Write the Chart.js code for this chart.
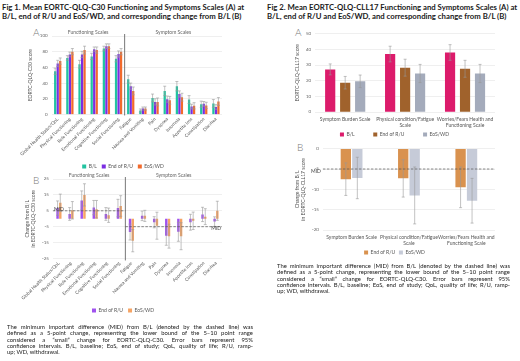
<!DOCTYPE html>
<html>
<head>
<meta charset="utf-8">
<script src="https://cdn.jsdelivr.net/npm/chart.js@4.4.1/dist/chart.umd.min.js"></script>
<style>
  body { margin: 0; background: #fff; width: 520px; height: 361px; position: relative; overflow: hidden; font-family: Lato, sans-serif; }
  .titulo { position: absolute; font-weight: 700; font-size: 7.75px; line-height: 9px; color: #1a1a1a; white-space: nowrap; }
  .caja { position: absolute; }
  .letra { position: absolute; font-size: 10px; color: #777; font-weight: 300; }
  .nota { position: absolute; font-size: 5.9px; line-height: 6.3px; color: #1a1a1a; }
  .nota span { display: block; white-space: nowrap; text-align: justify; text-align-last: justify; }
  .nota span.ult { text-align-last: left; }
</style>
</head>
<body>

<div class="titulo" style="left:2px; top:3px;">Fig 1. Mean EORTC-QLQ-C30 Functioning and Symptoms Scales (A) at<br>B/L, end of R/U and EoS/WD, and corresponding change from B/L (B)</div>
<div class="titulo" style="left:267px; top:3px;">Fig 2. Mean EORTC-QLQ-CLL17 Functioning and Symptoms Scales (A) at<br>B/L, end of R/U and EoS/WD, and corresponding change from B/L (B)</div>

<div class="letra" style="left:33px; top:26px;">A</div>
<div class="letra" style="left:33px; top:174px;">B</div>
<div class="letra" style="left:295px; top:26px;">A</div>
<div class="letra" style="left:297px; top:141px;">B</div>

<div class="caja" style="left:18px; top:24px; width:208px; height:155px;"><canvas id="c30Nivel"></canvas></div>
<div class="caja" style="left:18px; top:172px; width:208px; height:151px;"><canvas id="c30Cambio"></canvas></div>
<div class="caja" style="left:289px; top:27px; width:219px; height:120px;"><canvas id="cllNivel"></canvas></div>
<div class="caja" style="left:289px; top:142px; width:219px; height:123px;"><canvas id="cllCambio"></canvas></div>

<div class="nota" style="left:7px; top:324px; width:246px;">
  <span>The minimum important difference (MID) from B/L (denoted by the dashed line) was</span>
  <span>defined as a 5-point change, representing the lower bound of the 5–10 point range</span>
  <span>considered a “small” change for EORTC-QLQ-C30. Error bars represent 95%</span>
  <span>confidence intervals. B/L, baseline; EoS, end of study; QoL, quality of life; R/U, ramp-</span>
  <span class="ult">up; WD, withdrawal.</span>
</div>
<div class="nota" style="left:277px; top:263px; width:233px;">
  <span>The minimum important difference (MID) from B/L (denoted by the dashed line) was</span>
  <span>defined as a 5-point change, representing the lower bound of the 5–10 point range</span>
  <span>considered a “small” change for EORTC-QLQ-C30. Error bars represent 95%</span>
  <span>confidence intervals. B/L, baseline; EoS, end of study; QoL, quality of life; R/U, ramp-</span>
  <span class="ult">up; WD, withdrawal.</span>
</div>

<script>
// ---------- DATOS FIG 1 (QLQ-C30) ----------
const c30Escalas = ['Global Health Status/QoL', 'Physical Functioning', 'Role Functioning', 'Emotional Functioning',
  'Cognitive Functioning', 'Social Functioning', 'Fatigue', 'Nausea and Vomiting', 'Pain', 'Dyspnea',
  'Insomnia', 'Appetite loss', 'Constipation', 'Diarrhea'];
const c30Basal = [55, 72, 64, 74, 84, 71, 45, 5, 21, 30, 36, 19, 13, 14];
const c30FinRU = [65, 76.5, 76.5, 83, 87, 77, 36, 7.5, 16, 19.5, 26, 10, 13.5, 9.5];
const c30FinEstudio = [68, 80, 82, 82, 87, 80, 30, 7.5, 16, 18, 22, 11, 11.5, 16.5];
const c30ErrBasal = [4, 3, 5, 4, 3, 4, 5, 2, 5, 6, 6, 5, 4, 5];
const c30ErrFinRU = [4, 3, 4, 3, 3, 4, 4, 2, 4, 4, 4, 3, 3, 3];
const c30ErrFinEstudio = [4, 4, 5, 4, 3, 4, 5, 2, 5, 5, 5, 4, 4, 5];

const c30CambioRU = [6.7, 3, 11.5, 7, 3, 6.7, -8.4, 1.8, -2.2, -10.7, -8.2, -2.2, 2.7, -1.8];
const c30CambioEstudio = [10, 5.3, 15, 6, 2.2, 8, -13.8, 1.8, -4.4, -11, -11, -1.3, 1.3, 5];
const c30ErrCambioRU = [4.5, 4, 6, 4.5, 4, 5.5, 5, 3, 3.5, 6, 6, 5, 4.5, 3];
const c30ErrCambioEstudio = [5.5, 5.5, 7, 5.5, 4.5, 6.5, 7, 3.5, 8.5, 7.5, 8.5, 5.5, 5, 6];

// ---------- DATOS FIG 2 (QLQ-CLL17) ----------
const cllEscalas = ['Symptom Burden Scale', ['Physical condition/Fatigue', 'Scale'], ['Worries/Fears Health and', 'Functioning Scale']];
const cllBasal = [27.2, 37, 38];
const cllFinRU = [18.7, 28.3, 27.6];
const cllFinEstudio = [19.6, 24.6, 24.6];
const cllErrBasal = [3.5, 5, 5];
const cllErrFinRU = [4, 5.4, 5.4];
const cllErrFinEstudio = [4, 5.8, 5.8];

const cllCambioRU = [-7.5, -7.3, -9.5];
const cllCambioEstudio = [-7.2, -11.5, -12.8];
const cllErrCambioRU = [4, 4.6, 5];
const cllErrCambioEstudio = [5.1, 7, 5.5];

const etiquetasSerie = ['B/L', 'End of R/U', 'EoS/WD'];

Chart.defaults.font.family = 'Lato, sans-serif';
Chart.defaults.font.size = 5;
Chart.defaults.color = '#666';
Chart.defaults.animation = false;

// ========== PLUGINS ==========
const barrasError = {
  id: 'barrasError',
  afterDatasetsDraw(chart) {
    const ctx = chart.ctx;
    const y = chart.scales.y;
    chart.data.datasets.forEach((ds, i) => {
      const meta = chart.getDatasetMeta(i);
      if (!ds.errores || meta.hidden) return;
      meta.data.forEach((bar, j) => {
        const v = ds.data[j], e = ds.errores[j];
        const arriba = y.getPixelForValue(v + e);
        const abajo = y.getPixelForValue(v - e);
        ctx.save();
        ctx.strokeStyle = '#999';
        ctx.lineWidth = 0.6;
        ctx.beginPath();
        ctx.moveTo(bar.x, arriba); ctx.lineTo(bar.x, abajo);
        ctx.moveTo(bar.x - 1.5, arriba); ctx.lineTo(bar.x + 1.5, arriba);
        ctx.moveTo(bar.x - 1.5, abajo); ctx.lineTo(bar.x + 1.5, abajo);
        ctx.stroke();
        ctx.restore();
      });
    });
  }
};

const divisionEscalas = {
  id: 'divisionEscalas',
  afterDraw(chart, args, opts) {
    if (!opts.activo) return;
    const { ctx, chartArea: a, scales: { x } } = chart;
    const xd = x.getPixelForValue(5.5);
    ctx.save();
    ctx.strokeStyle = '#555';
    ctx.lineWidth = 0.8;
    ctx.beginPath();
    ctx.moveTo(xd, a.top - 2);
    ctx.lineTo(xd, a.bottom + (opts.extra || 0));
    ctx.stroke();
    ctx.font = '5px Lato, sans-serif';
    ctx.fillStyle = '#666';
    ctx.textAlign = 'center';
    ctx.textBaseline = 'bottom';
    ctx.fillText('Functioning Scales', (a.left + xd) / 2, a.top - 1);
    ctx.fillText('Symptom Scales', (xd + a.right) / 2, a.top - 1);
    ctx.restore();
  }
};

const lineaMID = {
  id: 'lineaMID',
  afterDatasetsDraw(chart, args, opts) {
    if (!opts.lineas) return;
    const { ctx, scales: { x, y } } = chart;
    ctx.save();
    opts.lineas.forEach(l => {
      const x0 = x.getPixelForValue(l.desde), x1 = x.getPixelForValue(l.hasta);
      const yy = y.getPixelForValue(l.valor);
      ctx.strokeStyle = '#555';
      ctx.lineWidth = 0.7;
      ctx.setLineDash([2.5, 1.5]);
      ctx.beginPath(); ctx.moveTo(x0, yy); ctx.lineTo(x1, yy); ctx.stroke();
      ctx.setLineDash([]);
      ctx.font = '5px Lato, sans-serif';
      ctx.fillStyle = '#444';
      ctx.textBaseline = 'middle';
      if (l.lado === 'izq') { ctx.textAlign = 'left'; ctx.fillText('MID', x0 + 1, yy - 1.5); }
      if (l.lado === 'der') { ctx.textAlign = 'right'; ctx.fillText('MID', x1 - 1, yy + 2); }
      if (l.lado === 'fuera') { ctx.textAlign = 'right'; ctx.fillText('MID', x0 - 2, yy + 2); }
    });
    ctx.restore();
  }
};

// agrega espacio a la derecha de cada rotulo de la leyenda (menos el ultimo)
function leyendaEspaciada(espacio) {
  return function (chart) {
    const items = Chart.defaults.plugins.legend.labels.generateLabels(chart);
    items.forEach((it, i) => { if (i < items.length - 1) it.text = it.text + espacio; });
    return items;
  };
}

function opcionesBase(min, max, paso, tituloY, extra) {
  const etiquetasLeyenda = { boxWidth: 4, boxHeight: 4, padding: 5, color: '#555', font: { size: 5 } };
  if (extra.espacioLeyenda) {
    etiquetasLeyenda.generateLabels = leyendaEspaciada(extra.espacioLeyenda);
    etiquetasLeyenda.padding = 0;
  }
  return {
    responsive: true,
    maintainAspectRatio: false,
    layout: extra.layout || { padding: 0 },
    plugins: {
      legend: { position: 'bottom', labels: etiquetasLeyenda },
      tooltip: { enabled: false },
      divisionEscalas: extra.division || {},
      lineaMID: extra.mid || {}
    },
    scales: {
      x: {
        grid: { display: false, drawTicks: false },
        border: { display: false },
        ticks: Object.assign({ color: '#555', padding: 2, autoSkip: false, font: { size: 5 } }, extra.ticksX || {})
      },
      y: {
        min: min, max: max,
        grid: { color: '#e4e4e4', lineWidth: 0.6, drawTicks: false },
        border: { display: false },
        ticks: { stepSize: paso, color: '#666', padding: 4, font: { size: 4.5 } },
        title: { display: true, text: tituloY, color: '#555', font: { size: 5 }, padding: { top: 0, bottom: 2 } }
      }
    }
  };
}

// ========== FIG 1 A ==========
new Chart(document.getElementById('c30Nivel'), {
  type: 'bar',
  data: {
    labels: c30Escalas,
    datasets: [
      { label: etiquetasSerie[0], data: c30Basal, errores: c30ErrBasal, backgroundColor: '#22c3a0', barPercentage: 0.9, categoryPercentage: 0.62 },
      { label: etiquetasSerie[1], data: c30FinRU, errores: c30ErrFinRU, backgroundColor: '#7b2de2', barPercentage: 0.9, categoryPercentage: 0.62 },
      { label: etiquetasSerie[2], data: c30FinEstudio, errores: c30ErrFinEstudio, backgroundColor: '#f26a2c', barPercentage: 0.9, categoryPercentage: 0.62 }
    ]
  },
  options: opcionesBase(0, 100, 10, 'EORTC-QLQ-C30 score', {
    layout: { padding: { top: 12, right: 4, left: 6 } },
    ticksX: { minRotation: 45, maxRotation: 45, font: { size: 4.6 } },
    division: { activo: true, extra: 1 }
  }),
  plugins: [barrasError, divisionEscalas, lineaMID]
});

// ========== FIG 1 B ==========
new Chart(document.getElementById('c30Cambio'), {
  type: 'bar',
  data: {
    labels: c30Escalas,
    datasets: [
      { label: etiquetasSerie[1], data: c30CambioRU, errores: c30ErrCambioRU, backgroundColor: '#a052ee', barPercentage: 0.9, categoryPercentage: 0.45 },
      { label: etiquetasSerie[2], data: c30CambioEstudio, errores: c30ErrCambioEstudio, backgroundColor: '#f5a465', barPercentage: 0.9, categoryPercentage: 0.45 }
    ]
  },
  options: opcionesBase(-25, 25, 5, ['Change from B/L', 'in EORTC-QLQ-C30 score'], {
    layout: { padding: { top: 7, right: 4, left: 6 } },
    ticksX: { minRotation: 45, maxRotation: 45, font: { size: 4.6 } },
    division: { activo: true, extra: 2 },
    mid: { lineas: [
      { desde: -0.5, hasta: 5.5, valor: 5, lado: 'izq' },
      { desde: 5.5, hasta: 13.5, valor: -5, lado: 'der' }
    ] }
  }),
  plugins: [barrasError, divisionEscalas, lineaMID]
});

// ========== FIG 2 A ==========
new Chart(document.getElementById('cllNivel'), {
  type: 'bar',
  data: {
    labels: cllEscalas,
    datasets: [
      { label: etiquetasSerie[0], data: cllBasal, errores: cllErrBasal, backgroundColor: '#dc1b6b', barPercentage: 0.68, categoryPercentage: 0.75 },
      { label: etiquetasSerie[1], data: cllFinRU, errores: cllErrFinRU, backgroundColor: '#a0622c', barPercentage: 0.68, categoryPercentage: 0.75 },
      { label: etiquetasSerie[2], data: cllFinEstudio, errores: cllErrFinEstudio, backgroundColor: '#a4abbb', barPercentage: 0.68, categoryPercentage: 0.75 }
    ]
  },
  options: opcionesBase(0, 50, 5, 'EORTC-QLQ-CLL17 score', {
    layout: { padding: { top: 5, right: 13, left: 5 } },
    ticksX: { maxRotation: 0, minRotation: 0, padding: 4 },
    espacioLeyenda: '\u2003\u2003\u2003\u2003\u2003'
  }),
  plugins: [barrasError]
});

// ========== FIG 2 B ==========
new Chart(document.getElementById('cllCambio'), {
  type: 'bar',
  data: {
    labels: cllEscalas,
    datasets: [
      { label: etiquetasSerie[1], data: cllCambioRU, errores: cllErrCambioRU, backgroundColor: '#d9924f', barPercentage: 0.9, categoryPercentage: 0.4 },
      { label: etiquetasSerie[2], data: cllCambioEstudio, errores: cllErrCambioEstudio, backgroundColor: '#c6cbd8', barPercentage: 0.9, categoryPercentage: 0.4 }
    ]
  },
  options: opcionesBase(-20, 0, 5, ['Change from B/L', 'in EORTC-QLQ-CLL17 score'], {
    layout: { padding: { top: 6, right: 13, left: 5 } },
    ticksX: { maxRotation: 0, minRotation: 0, padding: 4 },
    espacioLeyenda: '\u2003',
    mid: { lineas: [{ desde: -0.5, hasta: 2.5, valor: -5, lado: 'fuera' }] }
  }),
  plugins: [barrasError, lineaMID]
});
</script>
</body>
</html>
